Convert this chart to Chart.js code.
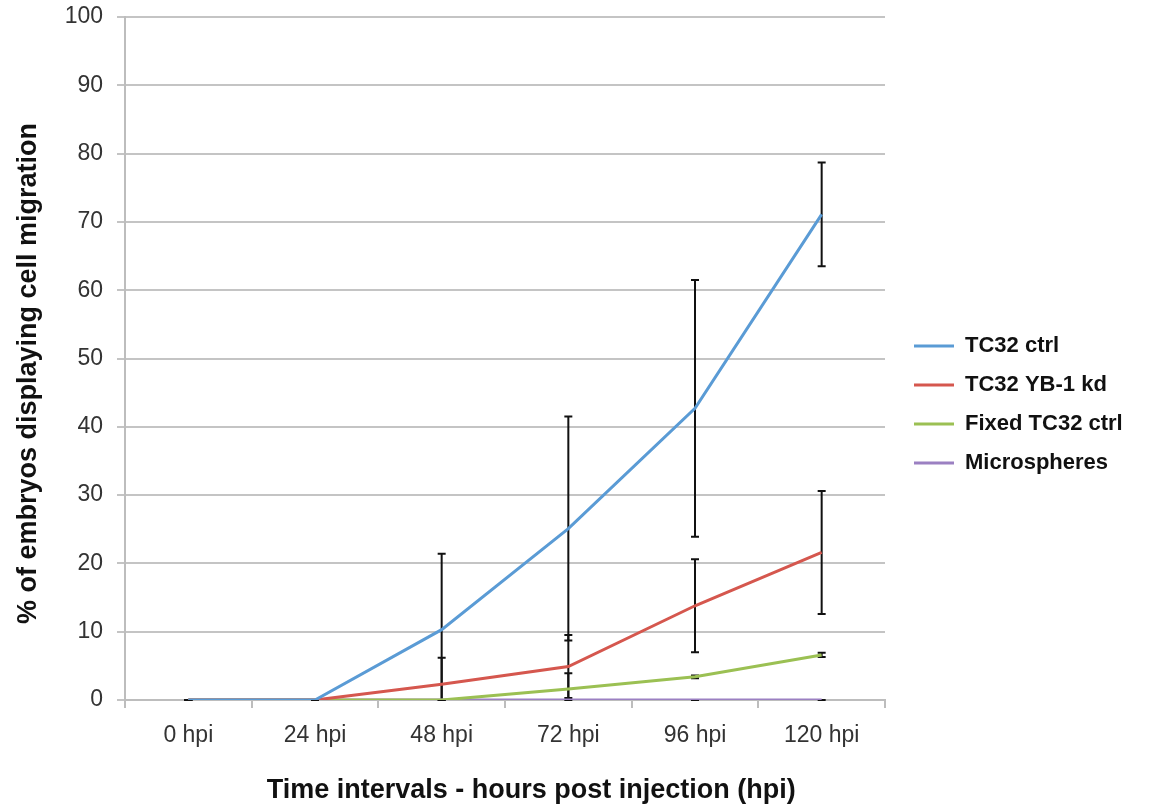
<!DOCTYPE html>
<html>
<head>
<meta charset="utf-8">
<script src="https://cdn.jsdelivr.net/npm/chart.js@4"></script>
<style>
  html, body { margin: 0; padding: 0; background: #fff; }
  #wrap { width: 1150px; height: 808px; }
</style>
</head>
<body>
<div id="wrap"><canvas id="chart" width="1150" height="808"></canvas></div>
<script>
// --- Data ---
const timePoints = ['0 hpi', '24 hpi', '48 hpi', '72 hpi', '96 hpi', '120 hpi'];
const tc32Ctrl = [0, 0, 10.3, 25.1, 42.7, 71.1];
const tc32CtrlErr = [0, 0, 11.1, 16.4, 18.8, 7.6];
const tc32Kd = [0, 0, 2.3, 4.9, 13.8, 21.6];
const tc32KdErr = [0, 0, 3.9, 4.6, 6.8, 9.0];
const fixedCtrl = [0, 0, 0, 1.6, 3.4, 6.6];
const fixedCtrlErr = [0, 0, 0, 2.3, 0.2, 0.3];
const microspheres = [0, 0, 0, 0, 0, 0];
const microspheresErr = [0, 0, 0, 0, 0, 0];
const yTicks = { min: 0, max: 100, step: 10 };

// --- Plugins ---
// error bars drawn under the lines, clipped to the plot like Excel does
const errorBars = {
  id: 'errorBars',
  beforeDatasetsDraw(chart) {
    const { ctx, chartArea, scales: { x, y } } = chart;
    ctx.save();
    ctx.beginPath();
    ctx.rect(chartArea.left, chartArea.top - 2, chartArea.width, chartArea.height + 3);
    ctx.clip();
    ctx.strokeStyle = '#111';
    ctx.lineWidth = 2;
    chart.data.datasets.forEach(ds => {
      (ds.errors || []).forEach((e, i) => {
        const v = ds.data[i];
        const px = x.getPixelForValue(i);
        const top = y.getPixelForValue(v + e);
        const bot = y.getPixelForValue(v - e);
        ctx.beginPath();
        ctx.moveTo(px, top); ctx.lineTo(px, bot);
        ctx.moveTo(px - 4, top); ctx.lineTo(px + 4, top);
        ctx.moveTo(px - 4, bot); ctx.lineTo(px + 4, bot);
        ctx.stroke();
      });
    });
    ctx.restore();
  }
};

// fixed legend column width and a small nudge so the plot area matches
const legendPlace = {
  id: 'legendPlace',
  beforeUpdate(chart) {
    const lg = chart.legend;
    if (!lg || lg._fixedFit) return;
    const fit = lg.fit;
    lg.fit = function () { fit.call(this); this.width = 265; };
    lg._fixedFit = true;
  },
  afterLayout(chart) {
    const lg = chart.legend;
    if (!lg) return;
    lg.left += 12; lg.right += 12;
    lg.top -= 8; lg.bottom -= 8;
  }
};

function makeSet(label, data, errors, color) {
  return {
    label, data, errors,
    borderColor: color,
    backgroundColor: color,
    borderWidth: 3,
    pointRadius: 0,
    pointHoverRadius: 0,
    tension: 0,
    fill: false
  };
}

const ctx = document.getElementById('chart').getContext('2d');
new Chart(ctx, {
  type: 'line',
  data: {
    labels: timePoints,
    datasets: [
      makeSet('TC32 ctrl', tc32Ctrl, tc32CtrlErr, '#5A9BD5'),
      makeSet('TC32 YB-1 kd', tc32Kd, tc32KdErr, '#D5574E'),
      makeSet('Fixed TC32 ctrl', fixedCtrl, fixedCtrlErr, '#9BC053'),
      makeSet('Microspheres', microspheres, microspheresErr, '#9B80C2')
    ]
  },
  plugins: [errorBars, legendPlace],
  options: {
    responsive: false,
    animation: false,
    devicePixelRatio: 1,
    layout: { padding: { top: 17, right: 0, bottom: 0, left: 0 } },
    plugins: {
      tooltip: { enabled: false },
      legend: {
        position: 'right',
        align: 'center',
        labels: {
          usePointStyle: true,
          pointStyle: 'line',
          pointStyleWidth: 40,
          padding: 17,
          color: '#111',
          font: { family: 'Liberation Sans, Arial, sans-serif', size: 22, weight: 'bold' }
        }
      }
    },
    scales: {
      x: {
        offset: true,
        afterFit: s => { s.height = 108; },
        grid: {
          offset: true,
          drawOnChartArea: false,
          drawTicks: true,
          tickLength: 8,
          color: '#bdbdbd',
          lineWidth: 2
        },
        border: { color: '#bdbdbd', width: 2 },
        ticks: {
          padding: 14,
          color: '#333',
          font: { family: 'Liberation Sans, Arial, sans-serif', size: 23 }
        },
        title: {
          display: true,
          text: '       Time intervals - hours post injection (hpi)',
          color: '#111',
          padding: { top: 0, bottom: 1 },
          font: { family: 'Liberation Sans, Arial, sans-serif', size: 27, weight: 'bold' }
        }
      },
      y: {
        min: yTicks.min,
        max: yTicks.max,
        afterFit: s => { s.width = 125; s.paddingTop = 0; s.paddingBottom = 0; },
        grid: {
          color: '#c4c4c4',
          lineWidth: 2,
          tickLength: 8
        },
        border: { color: '#bdbdbd', width: 2 },
        ticks: {
          stepSize: yTicks.step,
          padding: 14,
          color: '#333',
          font: { family: 'Liberation Sans, Arial, sans-serif', size: 23 }
        },
        title: {
          display: true,
          text: '% of embryos displaying cell migration    ',
          color: '#111',
          padding: { top: 12, bottom: 0 },
          font: { family: 'Liberation Sans, Arial, sans-serif', size: 27, weight: 'bold' }
        }
      }
    }
  }
});
</script>
</body>
</html>
